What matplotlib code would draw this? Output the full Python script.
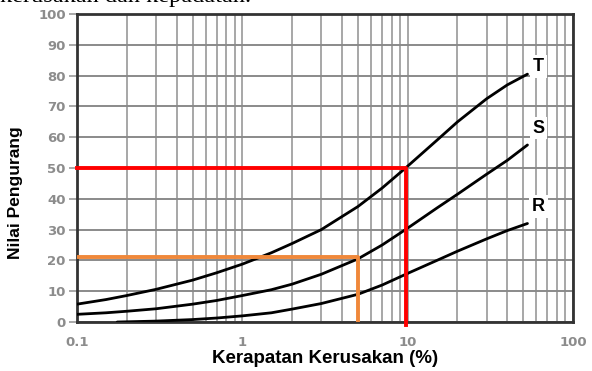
import matplotlib.pyplot as plt
import numpy as np

# kurva nilai pengurang untuk tingkat kerusakan R (rendah), S (sedang), T (tinggi)
t_x = [0.1, 0.15, 0.2, 0.3, 0.5, 0.7, 1, 1.5, 2, 3, 5, 7, 9.7, 15, 20, 30, 40, 53]
t_y = [5.8, 7.3, 8.6, 10.6, 13.6, 16, 18.8, 22.5, 25.5, 30, 37.5, 43.5, 50, 59,
       65, 72.5, 77, 80.5]

s_x = [0.1, 0.15, 0.2, 0.3, 0.5, 0.7, 1, 1.5, 2, 3, 5, 7, 10, 15, 20, 30, 40, 53]
s_y = [2.5, 3, 3.5, 4.3, 5.8, 7, 8.6, 10.5, 12.3, 15.5, 20.5, 25, 30.5, 37, 41.5,
       48, 52.5, 57.5]

r_x = [0.175, 0.3, 0.5, 0.7, 1, 1.5, 2, 3, 5, 7, 10, 15, 20, 30, 40, 53]
r_y = [0, 0.3, 0.8, 1.3, 2, 3, 4.2, 6, 9, 12, 15.8, 20, 23, 27, 29.7, 32]

# garis bantu pembacaan
red_x, red_y = 9.7, 50
orange_x, orange_y = 5, 21

curve_labels = ["T", "S", "R"]
label_y = [83, 63, 37.5]

fig = plt.figure(figsize=(5.92, 3.71), dpi=100)
ax = fig.add_axes([0.130, 0.132, 0.838, 0.830])

ax.set_xscale("log")
ax.set_xlim(0.1, 100)
ax.set_ylim(0, 100)

ax.grid(which="major", axis="y", color="#8a8a8a", linewidth=1.4)
ax.grid(which="both", axis="x", color="#a0a0a0", linewidth=1.3)
ax.set_axisbelow(True)

for xs, ys in [(t_x, t_y), (s_x, s_y), (r_x, r_y)]:
    ax.plot(xs, ys, color="black", linewidth=2, solid_joinstyle="round",
            solid_capstyle="round", zorder=3)

ax.plot([0.1, red_x, red_x], [red_y, red_y, -1], color="#ff0000",
        linewidth=2.8, clip_on=False, zorder=4)
ax.plot([0.1, orange_x, orange_x], [orange_y, orange_y, 0], color="#f0883a",
        linewidth=2.8, zorder=4)

for lab, ly in zip(curve_labels, label_y):
    ax.text(62, ly, lab, fontsize=13, fontweight="bold", family="Liberation Sans",
            ha="center", va="center", zorder=5,
            bbox=dict(facecolor="white", edgecolor="none", pad=2))

for side in ax.spines.values():
    side.set_color("#333333")
    side.set_linewidth(2)

ax.set_yticks(np.arange(0, 101, 10))
ax.set_xticks([0.1, 1, 10, 100])
ax.set_xticklabels(["0.1", "1", "10", "100"])
ax.tick_params(axis="y", length=6, width=1.2, color="#999999", labelcolor="#8c8c8c",
               labelsize=9.5, pad=2)
ax.tick_params(axis="x", which="both", length=0, labelcolor="#8c8c8c",
               labelsize=9.5, pad=10)
for lbl in ax.get_xticklabels() + ax.get_yticklabels():
    lbl.set_fontweight("bold")
    lbl.set_family("DejaVu Sans")

ax.set_xlabel("Kerapatan Kerusakan (%)", fontsize=13.5, fontweight="bold",
              family="Liberation Sans", labelpad=1)
ax.set_ylabel("Nilai Pengurang", fontsize=12.5, fontweight="bold",
              family="Liberation Sans")
ax.yaxis.set_label_coords(-0.108, 0.42)

fig.text(0.0, 0.994, "kerusakan dan kepadatan.", fontsize=17.5,
         family="Liberation Serif", va="baseline", ha="left")

fig.savefig("out.png", dpi=100)
